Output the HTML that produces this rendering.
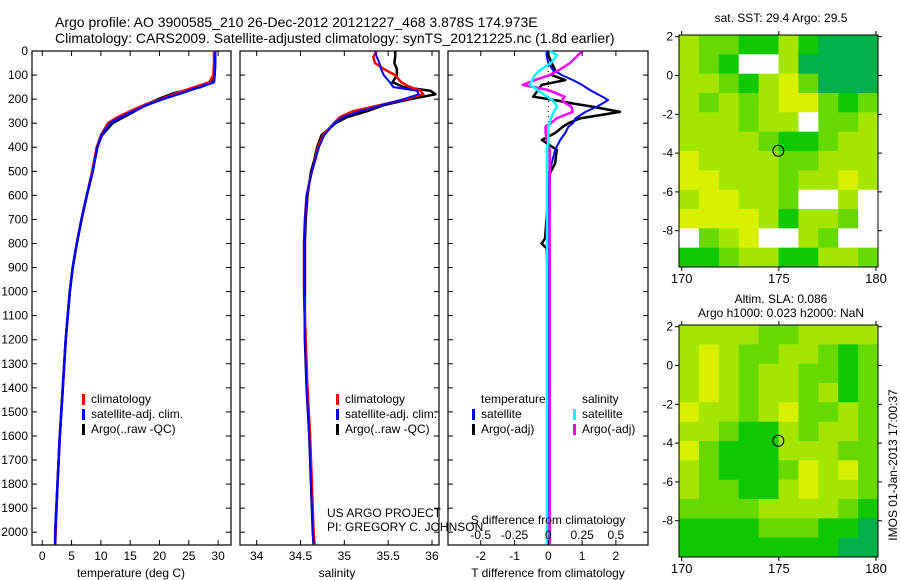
<!DOCTYPE html>
<html><head><meta charset="utf-8"><style>
body{margin:0;background:#fff;}
svg{display:block;font-family:"Liberation Sans",sans-serif;}
</style></head><body>
<svg id="fig" width="900" height="580" viewBox="0 0 900 580" xmlns="http://www.w3.org/2000/svg">
<text x="55" y="27" font-size="14">Argo profile: AO 3900585_210 26-Dec-2012 20121227_468 3.878S 174.973E</text>
<text x="55" y="43" font-size="14">Climatology: CARS2009. Satellite-adjusted climatology: synTS_20121225.nc (1.8d earlier)</text>
<g id="g1"></g>
<g id="g2"></g>
<g id="g3"></g>
<g id="m1"></g>
<g id="m2"></g>
<text x="781" y="22" font-size="12" text-anchor="middle">sat. SST: 29.4 Argo: 29.5</text>
<text x="781" y="303" font-size="12" text-anchor="middle">Altim. SLA: 0.086</text>
<text x="781" y="317" font-size="12" text-anchor="middle">Argo h1000: 0.023 h2000: NaN</text>
<text transform="translate(897,465) rotate(-90)" font-size="12" text-anchor="middle">IMOS 01-Jan-2013 17:00:37</text>
<text x="327" y="517" font-size="12">US ARGO PROJECT</text>
<text x="327" y="531" font-size="12">PI: GREGORY C. JOHNSON</text>
</svg>
<script>
// ---- data ----
const tDepth=[0,50,100,130,150,175,200,225,250,275,300,350,400,500,600,700,800,900,1000,1200,1400,1600,1800,2000,2050];
const tClim=[29.3,29.3,29.2,28.5,26.0,23.0,20.3,17.3,15.0,12.8,11.2,10.0,9.3,8.5,7.6,6.7,5.9,5.2,4.7,4.0,3.5,3.0,2.6,2.3,2.2];
const tSat=[29.5,29.5,29.4,29.3,26.8,23.8,20.6,17.8,15.6,13.4,11.6,10.1,9.4,8.6,7.6,6.7,5.9,5.2,4.7,4.0,3.5,3.0,2.6,2.2,2.2];
const tArgo=[29.5,29.5,29.4,29.0,27.0,22.5,19.8,17.5,15.8,13.9,12.0,10.2,9.3,8.6,7.6,6.7,5.9,5.2,4.7,4.0,3.5,3.0,2.6,2.2,2.2];
const sDepth=[0,25,50,75,100,130,150,165,180,200,225,250,275,300,350,400,450,500,600,700,800,1000,1200,1400,1600,1800,2000,2050];
const sClim=[35.37,35.33,35.35,35.45,35.58,35.65,35.75,35.87,35.90,35.70,35.41,35.10,34.95,34.88,34.76,34.70,34.67,34.63,34.57,34.55,34.54,34.54,34.56,34.58,34.61,34.63,34.65,34.66];
const sSat=[35.35,35.37,35.40,35.42,35.45,35.52,35.56,35.83,35.85,35.68,35.43,35.18,34.98,34.89,34.77,34.71,34.67,34.63,34.57,34.55,34.54,34.54,34.55,34.57,34.60,34.62,34.64,34.65];
const sArgo=[35.58,35.58,35.57,35.60,35.60,35.55,35.68,35.98,36.04,35.75,35.45,35.26,35.03,34.90,34.74,34.69,34.66,34.62,34.58,34.56,34.55,34.55,34.55,34.57,34.60,34.62,34.64,34.65];
const dDepth=[0,17,50,79,100,121,141,162,190,204,218,231,253,280,300,314,341,370,411,467,507,600,780,800,820,1000,1500,2000,2050];
const dTSat=[-0.05,-0.05,0.0,0.14,0.4,0.73,1.0,1.23,1.6,1.77,1.6,1.44,1.1,0.8,0.73,0.6,0.5,0.35,0.2,0.1,0.02,0.0,0.0,0.0,0.0,0.0,0.0,0.0,0.0];
const dTArgo=[0.0,0.0,0.1,0.2,0.1,0.5,-0.2,-0.3,-0.45,0.2,0.73,1.3,2.12,0.94,0.6,0.44,0.2,-0.19,0.25,0.2,0.05,0.0,-0.1,-0.2,-0.05,0.0,0.0,0.0,0.0];
const dSSat=[0.01,0.065,0.02,-0.06,-0.1,-0.12,-0.135,-0.08,-0.01,0.03,0.05,0.065,0.04,0.02,0.01,0.0,0.0,0.0,-0.01,-0.01,-0.01,-0.01,-0.01,-0.01,-0.01,-0.01,-0.01,-0.01,-0.01];
const dSArgo=[0.25,0.22,0.16,0.08,0.01,-0.1,-0.19,0.0,0.12,0.1,0.13,0.17,0.18,0.06,0.02,-0.02,-0.02,-0.01,0.01,0.01,0.01,0.01,0.01,0.01,0.01,0.01,0.01,0.01,0.01];
const depthTicks=[0,100,200,300,400,500,600,700,800,900,1000,1100,1200,1300,1400,1500,1600,1700,1800,1900,2000];
const tTicks=[0,5,10,15,20,25,30];
const sTicks=[34,34.5,35,35.5,36];
const sTickLabels=["34","34.5","35","35.5","36"];
const dTTicks=[-2,-1,0,1,2];
const dSTicks=[-0.5,-0.25,0,0.25,0.5];
const dSTickLabels=["-0.5","-0.25","0","0.25","0.5"];

const NS="http://www.w3.org/2000/svg";
function mk(parent,tag,attrs,txt){const e=document.createElementNS(NS,tag);for(const k in attrs)e.setAttribute(k,attrs[k]);if(txt!==undefined)e.textContent=txt;parent.appendChild(e);return e;}
const TOP=51,BOT=545;
const yD=d=>TOP+(d)*0.2406;

function panel(g,x0,x1,xmin,xmax,name){
  const sx=v=>x0+(v-xmin)/(xmax-xmin)*(x1-x0);
  const r=mk(g,'rect',{x:x0,y:TOP,width:x1-x0,height:BOT-TOP,fill:'#fff',stroke:'#000','stroke-width':1.2});
  
  
  depthTicks.forEach(d=>{
    mk(g,'line',{x1:x0,x2:x0+5,y1:yD(d),y2:yD(d),stroke:'#000'});
    mk(g,'line',{x1:x1,x2:x1-5,y1:yD(d),y2:yD(d),stroke:'#000'});
  });
  return sx;
}
function line(g,sx,xs,ds,col,w,name){
  const p=xs.map((v,i)=>sx(v).toFixed(1)+','+yD(ds[i]).toFixed(1)).join(' ');
  const e=mk(g,'polyline',{points:p,fill:'none',stroke:col,'stroke-width':w,'stroke-linejoin':'round'});
  
  
}
function xticks(g,sx,ticks,labels,y){
  ticks.forEach((t,i)=>{
    mk(g,'line',{x1:sx(t),x2:sx(t),y1:BOT,y2:BOT-5,stroke:'#000'});
    mk(g,'line',{x1:sx(t),x2:sx(t),y1:TOP,y2:TOP+5,stroke:'#000'});
    const e=mk(g,'text',{x:sx(t),y:y,'font-size':12,'text-anchor':'middle'},labels[i]);
    
    
  });
}
function legend(g,x,y,items){
  items.forEach((it,i)=>{
    if(it[0]) mk(g,'rect',{x:x,y:y+i*15-9,width:3,height:11,fill:it[0]});
    const e=mk(g,'text',{x:x+9,y:y+i*15,'font-size':12},it[1]);
    
    
  });
}
// panel 1
const g1=document.getElementById('g1');
const sx1=panel(g1,32,231,-1.75,32.2,'temperature-panel');
depthTicks.forEach(d=>{const e=mk(g1,'text',{x:28,y:yD(d)+4,'font-size':12,'text-anchor':'end'},String(d));
 
 });
line(g1,sx1,tArgo,tDepth,'#000',2.5,'argo-temperature');
line(g1,sx1,tClim,tDepth,'#f00',2.5,'clim-temperature');
line(g1,sx1,tSat,tDepth,'#00f',2.5,'sat-temperature');
xticks(g1,sx1,tTicks,tTicks.map(String),560);
let e=mk(g1,'text',{x:131,y:577,'font-size':12,'text-anchor':'middle'},'temperature (deg C)');

legend(g1,82,403,[['#f00','climatology'],['#00f','satellite-adj. clim.'],['#000','Argo(..raw -QC)']]);
// panel 2
const g2=document.getElementById('g2');
const sx2=panel(g2,240,439,33.81,36.08,'salinity-panel');
line(g2,sx2,sArgo,sDepth,'#000',2.5,'argo-salinity');
line(g2,sx2,sClim,sDepth,'#f00',2.5,'clim-salinity');
line(g2,sx2,sSat,sDepth,'#00f',2,'sat-salinity');
xticks(g2,sx2,sTicks,sTickLabels,560);
e=mk(g2,'text',{x:337,y:577,'font-size':12,'text-anchor':'middle'},'salinity');

legend(g2,336,403,[['#f00','climatology'],['#00f','satellite-adj. clim.'],['#000','Argo(..raw -QC)']]);
// panel 3
const g3=document.getElementById('g3');
const sx3=panel(g3,448,648,-2.97,2.95,'difference-panel');
const sxS=v=>sx3(v*4);
mk(g3,'line',{x1:sx3(0),x2:sx3(0),y1:TOP,y2:BOT,stroke:'#000','stroke-dasharray':'1,4'});
line(g3,sx3,dTArgo,dDepth,'#000',2.5,'argo-t-diff');
line(g3,sx3,dTSat,dDepth,'#00f',2,'sat-t-diff');
line(g3,sxS,dSArgo,dDepth,'#f0f',2.5,'argo-s-diff');
line(g3,sxS,dSSat,dDepth,'#0ff',2.5,'sat-s-diff');
xticks(g3,sx3,dTTicks,dTTicks.map(String),560);
dSTicks.forEach((t,i)=>{const e=mk(g3,'text',{x:sxS(t),y:539,'font-size':12,'text-anchor':'middle'},dSTickLabels[i]);
 });
e=mk(g3,'text',{x:548,y:524,'font-size':12,'text-anchor':'middle'},'S difference from climatology');

e=mk(g3,'text',{x:548,y:577,'font-size':12,'text-anchor':'middle'},'T difference from climatology');

legend(g3,472,403,[[null,'temperature'],['#00f','satellite'],['#000','Argo(-adj)']]);
legend(g3,573,403,[[null,'salinity'],['#0ff','satellite'],['#f0f','Argo(-adj)']]);

// maps
const pal={Y:'#d6f000',L:'#a4e600',G:'#66da00',D:'#10c800',T:'#00b048',W:'#ffffff',B:'#0050c0'};
const map1=["LGGDDLDTTT","LGDWWLTTTT","LLGDLYGTTT","LGLGLYYGDG","LLLGLLWGGL","LLLLGDDGLL","YLLLLGGLLL","YYLLLGLLYL","LYYLLGWWLW","YYYYLDLLGW","WGLYWWLGWW","DDGLLDDLLG"];
const map2=["LLLLGGLLLL","LYLGGLLGDG","LYLGLLGGDG","LYLGLLGLDG","YLLGLYGGLG","LLGDDLGLLG","YGDDDLLLGG","LGDDDGYLYG","LGGDDLYLLG","GGGGLLLLGD","DDDDGGGDDT","DDDDDDDDTT"];
function drawMap(id,grid,y0){
  const g=document.getElementById(id);
  const x0=679,x1=878,y1=y0+232;
  const lx=lo=>681.7+(lo-170)*19.43;
  const ly=la=>(y0+1.7)+(2-la)*19.4;
  const cw=(x1-x0)/10,ch=(y1-y0)/12;
  grid.forEach((row,r)=>row.split('').forEach((c,k)=>{
    mk(g,'rect',{x:x0+k*cw,y:y0+r*ch,width:cw+0.5,height:ch+0.5,fill:pal[c]});
  }));
  mk(g,'rect',{x:x0,y:y0,width:x1-x0,height:y1-y0,fill:'none',stroke:'#000'});
  [2,0,-2,-4,-6,-8].forEach(la=>{
    mk(g,'line',{x1:x0,x2:x0-4,y1:ly(la),y2:ly(la),stroke:'#000'});
    mk(g,'line',{x1:x1,x2:x1+4,y1:ly(la),y2:ly(la),stroke:'#000'});
    const t=mk(g,'text',{x:x0-6,y:ly(la)+4,'font-size':12,'text-anchor':'end'},String(la));
    
  });
  [170,175,180].forEach(lo=>{
    mk(g,'line',{x1:lx(lo),x2:lx(lo),y1:y1,y2:y1+4,stroke:'#000'});
    mk(g,'line',{x1:lx(lo),x2:lx(lo),y1:y0,y2:y0-4,stroke:'#000'});
    const t=mk(g,'text',{x:lx(lo),y:y1+16,'font-size':13,'text-anchor':'middle'},String(lo));
    
  });
  const c=mk(g,'circle',{cx:lx(174.973),cy:ly(-3.878),r:5.5,fill:'none',stroke:'#000'});
  
  
}
drawMap('m1',map1,35);
drawMap('m2',map2,325);
</script>
</body></html>
